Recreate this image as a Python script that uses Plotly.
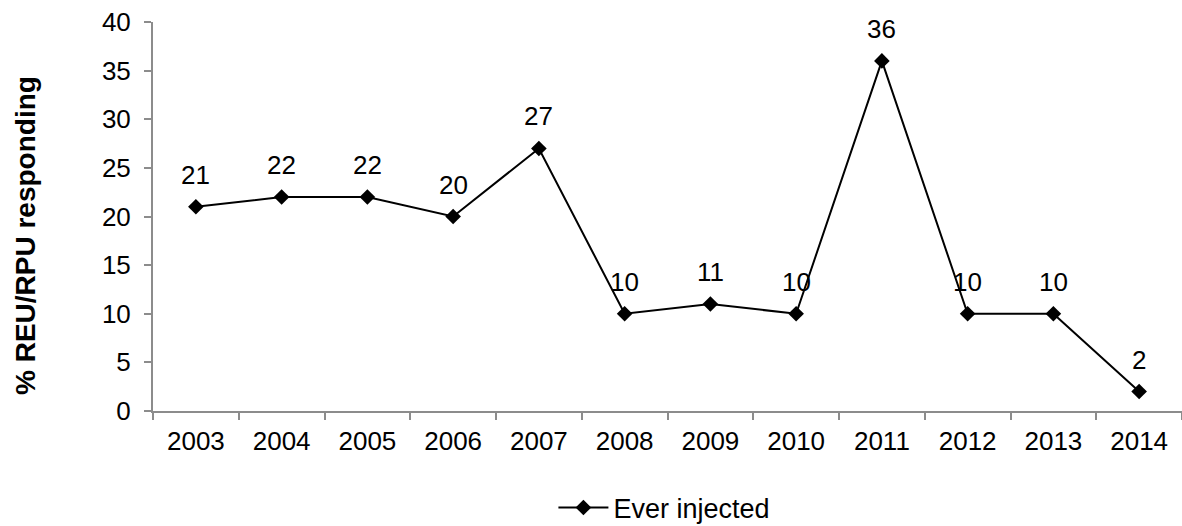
import plotly.graph_objects as go

years = ["2003", "2004", "2005", "2006", "2007", "2008", "2009", "2010", "2011", "2012", "2013", "2014"]
ever_injected = [21, 22, 22, 20, 27, 10, 11, 10, 36, 10, 10, 2]

FONT = "Liberation Sans, Arial, sans-serif"
FS = 26

fig = go.Figure()
fig.add_trace(go.Scatter(
    x=years, y=ever_injected, mode="lines+markers",
    name="Ever injected",
    line=dict(color="black", width=2),
    marker=dict(symbol="diamond", size=12, color="black"),
    cliponaxis=False,
))

annotations = [dict(
    x=i, y=v, xref="x", yref="y", text=str(v), showarrow=False,
    xanchor="center", yanchor="middle",
    yshift=32, font=dict(family=FONT, size=FS, color="black"),
) for i, v in enumerate(ever_injected)]

annotations.append(dict(
    text="<b>% REU/RPU responding</b>", textangle=-90,
    xref="paper", yref="paper", x=-(153 - 25) / 1029, y=(411 - 236) / 389,
    xanchor="center", yanchor="middle", showarrow=False,
    font=dict(family=FONT, size=28, color="black"),
))

fig.update_layout(
    width=1182, height=526,
    margin=dict(l=153, r=0, t=22, b=115, autoexpand=False),
    plot_bgcolor="white", paper_bgcolor="white",
    font=dict(family=FONT, size=FS, color="black"),
    showlegend=True,
    legend=dict(orientation="h", x=0.497, xanchor="center", y=-(508 - 411) / 389, yanchor="middle",
                itemwidth=50, font=dict(family=FONT, size=27, color="black")),
    annotations=annotations,
)
fig.update_xaxes(
    type="category", range=[-0.5, 11.5], showgrid=False, showline=True,
    linecolor="#8c8c8c", linewidth=2,
    ticks="outside", tickson="boundaries", ticklen=7, tickcolor="#8c8c8c", tickwidth=2,
    ticklabelstandoff=6,
    tickfont=dict(family=FONT, size=FS, color="black"),
)
fig.update_yaxes(
    range=[0, 40], dtick=5, showgrid=False, showline=True, linecolor="#8c8c8c", linewidth=2,
    ticks="outside", ticklen=7, tickcolor="#8c8c8c", tickwidth=2, ticklabelstandoff=8,
    tickfont=dict(family=FONT, size=FS, color="black"),
    zeroline=False,
)

fig.write_html("out.html", config={"displayModeBar": False},
               post_script="document.body.style.margin='0';document.body.style.overflow='hidden';")
